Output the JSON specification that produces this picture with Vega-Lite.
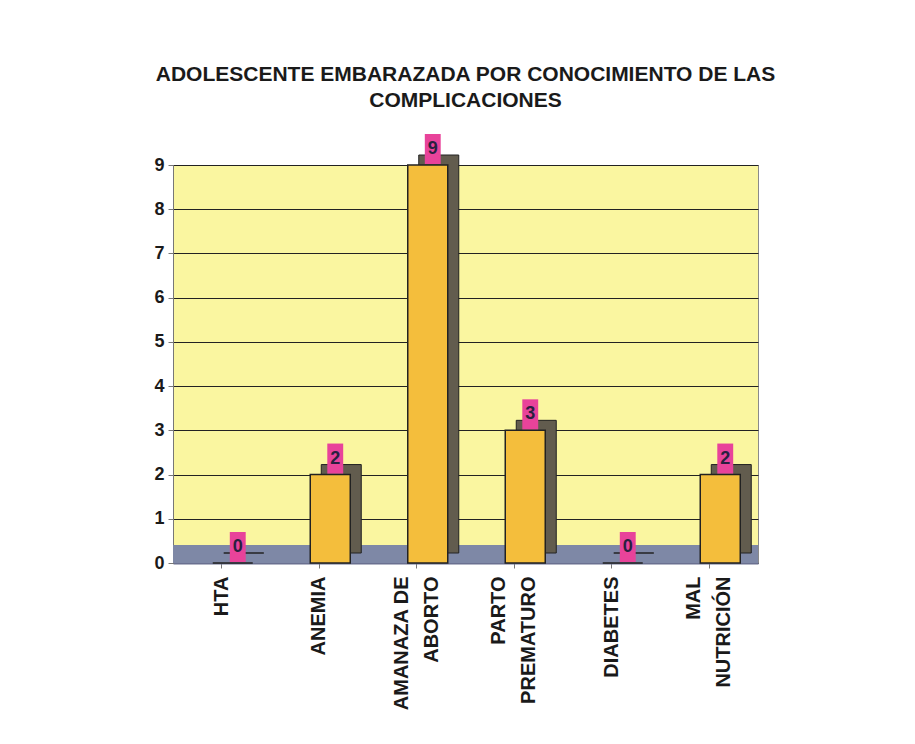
{
  "$schema": "https://vega.github.io/schema/vega-lite/v6.json",
  "width": 585,
  "height": 398,
  "autosize": {"type": "none"},
  "padding": {"left": 173, "top": 165, "right": 157, "bottom": 181},
  "background": "white",
  "title": {
    "text": ["ADOLESCENTE EMBARAZADA POR CONOCIMIENTO DE LAS", "COMPLICACIONES"],
    "font": "Liberation Sans",
    "fontSize": 21,
    "fontWeight": "bold",
    "color": "#1a1a1a",
    "anchor": "middle",
    "lineHeight": 26,
    "offset": 23
  },
  "config": {
    "view": {"fill": "#FAF6A0", "stroke": "#8a8a8a", "strokeWidth": 1},
    "font": "Liberation Sans"
  },
  "data": {
    "values": [
      {"cat": "HTA", "n": 0},
      {"cat": "ANEMIA", "n": 2},
      {"cat": "AMANAZA DE|ABORTO", "n": 9},
      {"cat": "PARTO|PREMATURO", "n": 3},
      {"cat": "DIABETES", "n": 0},
      {"cat": "MAL|NUTRICIÓN", "n": 2}
    ]
  },
  "encoding": {
    "x": {
      "field": "cat",
      "type": "nominal",
      "sort": null,
      "scale": {"paddingInner": 0, "paddingOuter": 0},
      "axis": {
        "title": null,
        "labelAngle": -90,
        "labelAlign": "right",
        "labelBaseline": "middle",
        "labelExpr": "split(datum.label, '|')",
        "labelOffset": {"condition": {"test": "indexof(datum.value, '|') >= 0", "value": -15}, "value": 0},
        "labelFont": "Liberation Sans",
        "labelFontSize": 20,
        "labelFontWeight": "bold",
        "labelColor": "#1a1a1a",
        "labelPadding": 8,
        "labelLineHeight": 30,
        "tickColor": "#777",
        "tickSize": 5,
        "domainColor": "#6a7090",
        "domainWidth": 2
      }
    }
  },
  "layer": [
    {
      "mark": {"type": "rect", "color": "#7E88A6"},
      "encoding": {
        "x": null,
        "y": {"datum": 0, "type": "quantitative"},
        "y2": {"datum": 0.4}
      }
    },
    {
      "mark": {"type": "bar", "color": "#625C4E", "size": 40, "xOffset": 22, "yOffset": -10, "stroke": "#222", "strokeWidth": 1},
      "encoding": {
        "y": {
          "field": "n",
          "type": "quantitative",
          "scale": {"domain": [0, 9]},
          "axis": {
            "title": null,
            "values": [0, 1, 2, 3, 4, 5, 6, 7, 8, 9],
            "grid": true,
            "gridColor": "#222",
            "gridWidth": 1,
            "labelFont": "Liberation Sans",
            "labelFontSize": 18,
            "labelFontWeight": "bold",
            "labelColor": "#1a1a1a",
            "labelPadding": 4,
            "tickColor": "#777",
            "tickSize": 5,
            "domainColor": "#777"
          }
        }
      }
    },
    {
      "mark": {"type": "bar", "color": "#F4BE3C", "size": 40, "xOffset": 11, "stroke": "#222", "strokeWidth": 1.5},
      "encoding": {"y": {"field": "n", "type": "quantitative"}}
    },
    {
      "mark": {"type": "point", "shape": "M-0.53,-1L0.53,-1L0.53,1L-0.53,1Z", "filled": true, "color": "#E8439A", "opacity": 1, "size": 900, "xOffset": 16, "yOffset": -16},
      "encoding": {"y": {"field": "n", "type": "quantitative"}}
    },
    {
      "mark": {"type": "text", "font": "Liberation Sans", "fontSize": 18, "fontWeight": "bold", "color": "#2a2040", "xOffset": 16, "yOffset": -16, "baseline": "middle"},
      "encoding": {
        "y": {"field": "n", "type": "quantitative"},
        "text": {"field": "n", "type": "quantitative"}
      }
    }
  ]
}
